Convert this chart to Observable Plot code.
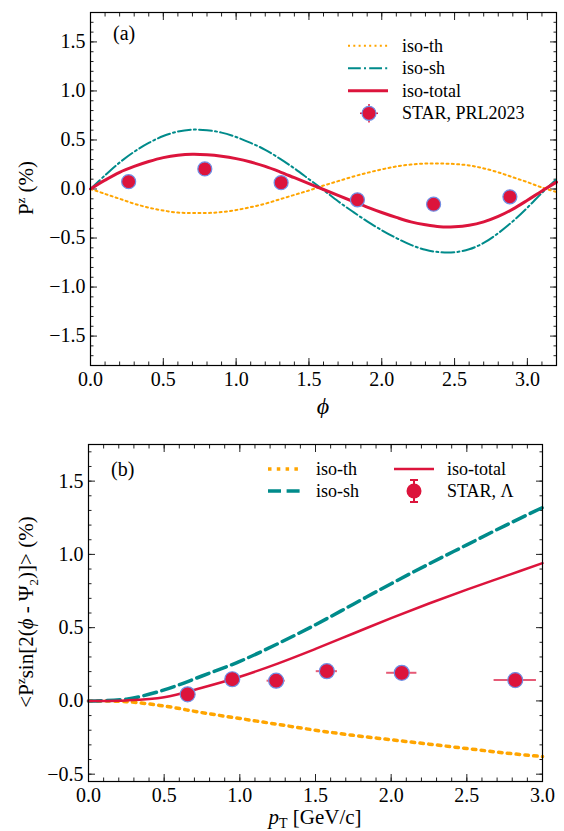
<!DOCTYPE html>
<html><head><meta charset="utf-8">
<script src="https://cdn.jsdelivr.net/npm/d3@7"></script>
<script src="https://cdn.jsdelivr.net/npm/@observablehq/plot@0.6"></script>
<style>body{margin:0;background:#fff}#chart svg{display:block}#chart svg, #chart svg text{font-family:'Liberation Serif','Times New Roman',Times,'DejaVu Serif',serif !important}</style>
</head><body><div id="chart"></div>
<script>
// ---------- Panel (a): Pz vs phi ----------
const phiGrid = [0,0.1,0.2,0.3,0.4,0.5,0.6,0.7,0.8,0.9,1.0,1.1,1.2,1.3,1.4,1.5,1.6,1.7,1.8,1.9,2.0,2.1,2.2,2.3,2.4,2.5,2.6,2.7,2.8,2.9,3.0,3.1,3.2];
const isoThA  = [0,-0.05,-0.10,-0.15,-0.19,-0.22,-0.24,-0.245,-0.245,-0.235,-0.215,-0.185,-0.15,-0.105,-0.06,-0.015,0.035,0.08,0.125,0.165,0.20,0.23,0.25,0.26,0.26,0.255,0.24,0.21,0.17,0.12,0.07,0.015,-0.03];
const isoShA  = [0,0.14,0.27,0.38,0.47,0.54,0.585,0.605,0.60,0.575,0.53,0.47,0.40,0.31,0.21,0.10,-0.01,-0.125,-0.23,-0.33,-0.42,-0.50,-0.57,-0.62,-0.645,-0.645,-0.615,-0.55,-0.45,-0.33,-0.19,-0.04,0.10];
const isoTotA = [0,0.09,0.17,0.23,0.28,0.32,0.345,0.355,0.35,0.335,0.31,0.275,0.23,0.175,0.115,0.055,-0.005,-0.065,-0.125,-0.185,-0.24,-0.29,-0.335,-0.365,-0.385,-0.385,-0.37,-0.335,-0.28,-0.205,-0.115,-0.02,0.07];
const starPhi = [0.262,0.785,1.309,1.833,2.356,2.880];
const starPz  = [0.075,0.205,0.065,-0.11,-0.155,-0.08];
const starPzErr = [0.02,0.02,0.02,0.02,0.02,0.02];
const xMajorA = [0,0.5,1.0,1.5,2.0,2.5,3.0];
const yMajorA = [-1.5,-1.0,-0.5,0,0.5,1.0,1.5];

// ---------- Panel (b): <Pz sin[2(phi-Psi2)]> vs pT ----------
const ptGrid  = [0,0.25,0.5,0.75,1.0,1.25,1.5,1.75,2.0,2.25,2.5,2.75,3.0];
const isoThB  = [0,-0.005,-0.035,-0.08,-0.12,-0.16,-0.20,-0.235,-0.265,-0.295,-0.325,-0.355,-0.38];
const isoShB  = [0,0.012,0.075,0.17,0.27,0.39,0.52,0.66,0.80,0.935,1.065,1.195,1.32];
const isoTotB = [0,0.003,0.025,0.09,0.165,0.255,0.355,0.46,0.565,0.665,0.76,0.85,0.94];
const starPt  = [0.655,0.95,1.24,1.575,2.07,2.82];
const starV   = [0.045,0.148,0.138,0.203,0.192,0.142];
const starVErr = [0.04,0.02,0.015,0.02,0.02,0.05];
const starPtErr = [0,0.02,0.06,0.07,0.1,0.14];
const xMajorB = [0,0.5,1.0,1.5,2.0,2.5,3.0];
const yMajorB = [-0.5,0,0.5,1.0,1.5];

const C_OR = "#FFA500", C_TE = "#008B8B", C_RE = "#DC143C", C_ED = "#6F8FE6";
const FONT = "'Liberation Serif','Times New Roman',Times,'DejaVu Serif',serif";

function minor(lo, hi, step) {
  const out = [];
  for (let k = Math.ceil(lo/step - 1e-9); k*step <= hi + 1e-9; k++) out.push(+(k*step).toFixed(3));
  return out;
}

function frameTicks(xMaj, xMin, yMaj, yMin) {
  const tk = {stroke: "#222", strokeWidth: 1, label: null};
  const blank = () => "";
  return [
    Plot.axisX(xMaj, {...tk, anchor: "bottom", tickSize: -7, tickPadding: 13, fontSize: 20, tickFormat: d3.format(".1f")}),
    Plot.axisX(xMaj, {...tk, anchor: "top", tickSize: -7, tickFormat: blank}),
    Plot.axisX(xMin, {...tk, anchor: "bottom", tickSize: -3.5, tickFormat: blank}),
    Plot.axisX(xMin, {...tk, anchor: "top", tickSize: -3.5, tickFormat: blank}),
    Plot.axisY(yMaj, {...tk, anchor: "left", tickSize: -7, tickPadding: 12, fontSize: 20, tickFormat: d3.format(".1f")}),
    Plot.axisY(yMaj, {...tk, anchor: "right", tickSize: -7, tickFormat: blank}),
    Plot.axisY(yMin, {...tk, anchor: "left", tickSize: -3.5, tickFormat: blank}),
    Plot.axisY(yMin, {...tk, anchor: "right", tickSize: -3.5, tickFormat: blank})
  ];
}

const rowsA = phiGrid.map((p, i) => ({phi: p, th: isoThA[i], sh: isoShA[i], tot: isoTotA[i]}));
const starA = starPhi.map((p, i) => ({phi: p, v: starPz[i], lo: starPz[i] - starPzErr[i], hi: starPz[i] + starPzErr[i]}));

const plotA = Plot.plot({
  width: 564, height: 418,
  marginLeft: 90, marginRight: 8, marginTop: 12, marginBottom: 53,
  x: {domain: [0, 3.2], axis: null},
  y: {domain: [-1.8, 1.8], axis: null},
  style: {fontFamily: FONT, background: "white", color: "black"},
  marks: [
    ...frameTicks(xMajorA, minor(0, 3.2, 0.1), yMajorA, minor(-1.8, 1.8, 0.1)),
    Plot.line(rowsA, {x: "phi", y: "th", stroke: C_OR, strokeWidth: 2, strokeDasharray: "2,3.3", curve: "catmull-rom"}),
    Plot.line(rowsA, {x: "phi", y: "sh", stroke: C_TE, strokeWidth: 2, strokeDasharray: "12.8,3.2,2,3.2", curve: "catmull-rom"}),
    Plot.line(rowsA, {x: "phi", y: "tot", stroke: C_RE, strokeWidth: 3, curve: "catmull-rom"}),
    Plot.ruleX(starA, {x: "phi", y1: "lo", y2: "hi", stroke: C_RE, strokeWidth: 1.5}),
    Plot.dot(starA, {x: "phi", y: "v", r: 7, fill: C_RE, stroke: C_ED, strokeWidth: 1.2}),
    Plot.frame({stroke: "black", strokeWidth: 1.2})
  ]
});

const rowsB = ptGrid.map((p, i) => ({pt: p, th: isoThB[i], sh: isoShB[i], tot: isoTotB[i]}));
const starB = starPt.map((p, i) => ({pt: p, v: starV[i], lo: starV[i] - starVErr[i], hi: starV[i] + starVErr[i],
  xlo: p - starPtErr[i], xhi: p + starPtErr[i]}));

const plotB = Plot.plot({
  width: 564, height: 413,
  marginLeft: 88, marginRight: 22, marginTop: 26, marginBottom: 50,
  x: {domain: [0, 3.0], axis: null},
  y: {domain: [-0.55, 1.75], axis: null},
  style: {fontFamily: FONT, background: "white", color: "black"},
  marks: [
    ...frameTicks(xMajorB, minor(0, 3.0, 0.1), yMajorB, minor(-0.55, 1.75, 0.1)),
    Plot.line(rowsB, {x: "pt", y: "th", stroke: C_OR, strokeWidth: 3.5, strokeDasharray: "3.5,5.3", curve: "catmull-rom"}),
    Plot.line(rowsB, {x: "pt", y: "sh", stroke: C_TE, strokeWidth: 3.5, strokeDasharray: "13,5.6", curve: "catmull-rom"}),
    Plot.line(rowsB, {x: "pt", y: "tot", stroke: C_RE, strokeWidth: 2.5, curve: "catmull-rom"}),
    Plot.ruleY(starB, {y: "v", x1: "xlo", x2: "xhi", stroke: C_RE, strokeOpacity: 0.7, strokeWidth: 2}),
    Plot.ruleX(starB, {x: "pt", y1: "lo", y2: "hi", stroke: C_RE, strokeWidth: 2}),
    Plot.dot(starB, {x: "pt", y: "v", r: 7.5, fill: C_RE, stroke: C_ED, strokeWidth: 1.2}),
    Plot.frame({stroke: "black", strokeWidth: 1.2})
  ]
});

const chart = document.getElementById("chart");
chart.append(plotA, plotB);

// ---------- labels and legends (text + swatches) ----------
function addText(svg, x, y, parts, size, rotate) {
  const t = svg.append("text").attr("x", x).attr("y", y).attr("text-anchor", "middle")
    .style("font-family", FONT).attr("font-size", size).attr("fill", "black");
  if (rotate) t.attr("transform", `rotate(-90 ${x} ${y})`);
  parts.forEach(p => {
    const s = t.append("tspan").text(p.t);
    if (p.i) s.attr("font-style", "italic");
    if (p.fs) s.attr("font-size", p.fs);
    if (p.dy) s.attr("dy", p.dy);
  });
  return t;
}
function addLabel(svg, x, y, str, size, anchor = "start") {
  svg.append("text").attr("x", x).attr("y", y).style("font-family", FONT).attr("font-size", size)
    .attr("dominant-baseline", "central").attr("text-anchor", anchor).attr("fill", "black").text(str);
}
function swatch(svg, x1, x2, y, color, w, dash) {
  const l = svg.append("line").attr("x1", x1).attr("x2", x2).attr("y1", y).attr("y2", y)
    .attr("stroke", color).attr("stroke-width", w);
  if (dash) l.attr("stroke-dasharray", dash);
}

const svgA = d3.select(plotA);
addLabel(svgA, 113, 33, "(a)", 20);
addText(svgA, 33, 188, [{t: "P"}, {t: "z", fs: 13, dy: -8}, {t: " (%)", dy: 8}], 21, true);
addText(svgA, 323, 414, [{t: "ϕ", i: true}], 24, false);
swatch(svgA, 348, 388, 45.7, C_OR, 2, "2,3.3");
swatch(svgA, 348, 388, 68.3, C_TE, 2, "12.8,3.2,2,3.2");
swatch(svgA, 348, 388, 90.7, C_RE, 3);
svgA.append("line").attr("x1", 360).attr("x2", 378).attr("y1", 113.3).attr("y2", 113.3).attr("stroke", C_RE).attr("stroke-width", 1.5);
svgA.append("line").attr("x1", 369).attr("x2", 369).attr("y1", 104).attr("y2", 122.6).attr("stroke", C_RE).attr("stroke-width", 1.5);
svgA.append("circle").attr("cx", 369).attr("cy", 113.3).attr("r", 7).attr("fill", C_RE).attr("stroke", C_ED).attr("stroke-width", 1.2);
addLabel(svgA, 402, 45.7, "iso-th", 18);
addLabel(svgA, 402, 68.3, "iso-sh", 18);
addLabel(svgA, 402, 90.7, "iso-total", 18);
addLabel(svgA, 402, 113.3, "STAR, PRL2023", 18);

const svgB = d3.select(plotB);
addLabel(svgB, 111, 469 - 418, "(b)", 20);
addText(svgB, 33, 612 - 418, [{t: "<P"}, {t: "z", fs: 13, dy: -8}, {t: "sin[2(", dy: 8}, {t: "ϕ", i: true}, {t: " - Ψ"}, {t: "2", fs: 13, dy: 5}, {t: ")]> (%)", dy: -5}], 21, true);
addText(svgB, 315, 824 - 418, [{t: "p", i: true}, {t: "T", fs: 14, dy: 4}, {t: " [GeV/c]", dy: -4}], 21, false);
swatch(svgB, 268, 302, 469 - 418, C_OR, 3.5, "3.5,5.3");
swatch(svgB, 268, 302, 491 - 418, C_TE, 3.5, "13,5.6");
swatch(svgB, 394, 434, 469 - 418, C_RE, 2.5);
svgB.append("line").attr("x1", 414).attr("x2", 414).attr("y1", 491 - 418 - 11).attr("y2", 491 - 418 + 11).attr("stroke", C_RE).attr("stroke-width", 2);
svgB.append("line").attr("x1", 410).attr("x2", 418).attr("y1", 491 - 418 - 11).attr("y2", 491 - 418 - 11).attr("stroke", C_RE).attr("stroke-width", 2);
svgB.append("line").attr("x1", 410).attr("x2", 418).attr("y1", 491 - 418 + 11).attr("y2", 491 - 418 + 11).attr("stroke", C_RE).attr("stroke-width", 2);
svgB.append("circle").attr("cx", 414).attr("cy", 491 - 418).attr("r", 7.5).attr("fill", C_RE);
addLabel(svgB, 316, 469 - 418, "iso-th", 18);
addLabel(svgB, 316, 491 - 418, "iso-sh", 18);
addLabel(svgB, 447, 469 - 418, "iso-total", 18);
addLabel(svgB, 447, 491 - 418, "STAR, Λ", 18);
</script></body></html>
